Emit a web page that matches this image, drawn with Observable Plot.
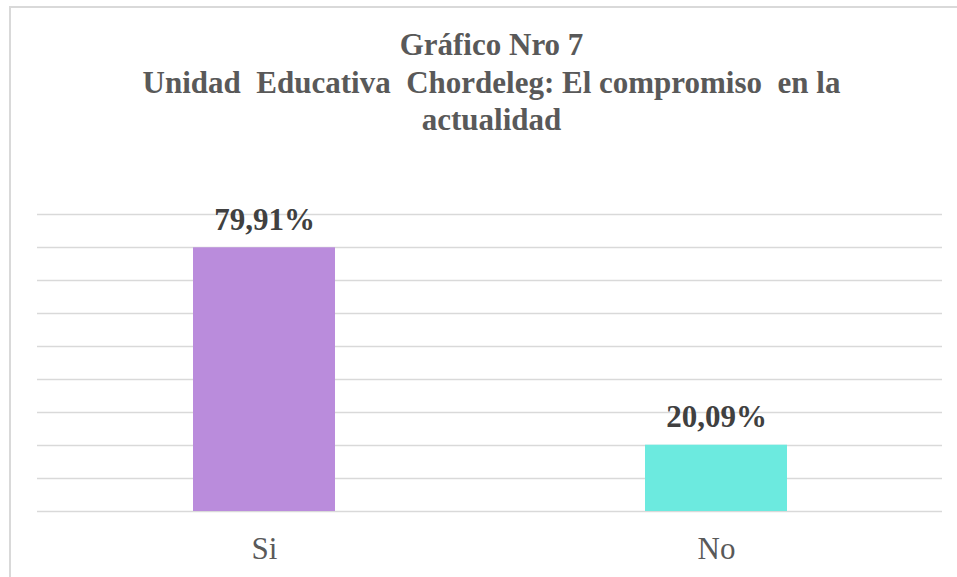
<!DOCTYPE html>
<html>
<head>
<meta charset="utf-8">
<script src="https://cdn.jsdelivr.net/npm/d3@7"></script>
<script src="https://cdn.jsdelivr.net/npm/@observablehq/plot@0.6"></script>
<style>
  html, body { margin: 0; padding: 0; background: #fff; }
  #frame { margin: 6px 0 0 9px; border-left: 2px solid #d9d9d9; border-top: 2px solid #d9d9d9; height: 600px; }
  #title { margin-left: -11px; width: 957px; height: 172px; padding: 18px 0 0 26px; box-sizing: border-box; text-align: center;
           font-family: 'Liberation Serif', serif; font-weight: bold; font-size: 31px; line-height: 37.5px; color: #595959; white-space: pre; }
  #chart { margin-left: -11px; }
</style>
</head>
<body>
<div id="frame">
  <div id="title"></div>
  <div id="chart"></div>
</div>
<script>
const titleLines = ["Gráfico Nro 7", "Unidad  Educativa  Chordeleg: El compromiso  en la", "actualidad"];
const categories = ["Si", "No"];
const values = [79.91, 20.09];
const labels = ["79,91%", "20,09%"];
const colors = ["#BA8CDC", "#6CEADF"];
const gridTicks = [0, 10, 20, 30, 40, 50, 60, 70, 80, 90];
const serif = "Liberation Serif";

document.getElementById("title").textContent = titleLines.join("\n");

const data = categories.map((c, i) => ({cat: c, value: values[i], label: labels[i], color: colors[i]}));

const chart = Plot.plot({
  width: 957,
  height: 397,
  marginLeft: 37,
  marginRight: 15,
  marginTop: 34,
  marginBottom: 66,
  style: {background: "transparent", overflow: "visible", fontFamily: serif},
  x: {domain: categories, padding: 0, label: null},
  y: {domain: [0, 90], axis: null},
  marks: [
    Plot.ruleY(gridTicks, {stroke: "#d9d9d9", strokeWidth: 1.6}),
    Plot.barY(data, {x: "cat", y: "value", fill: "color", insetLeft: 155, insetRight: 155}),
    Plot.text(data, {x: "cat", y: "value", text: "label", dy: -28, fontSize: 31, fontWeight: "bold",
      fontFamily: serif, fill: "#404040"}),
    Plot.axisX({tickSize: 0, tickPadding: 25, fontSize: 31, fontFamily: serif, color: "#595959", label: null})
  ]
});
document.getElementById("chart").appendChild(chart);
</script>
</body>
</html>
